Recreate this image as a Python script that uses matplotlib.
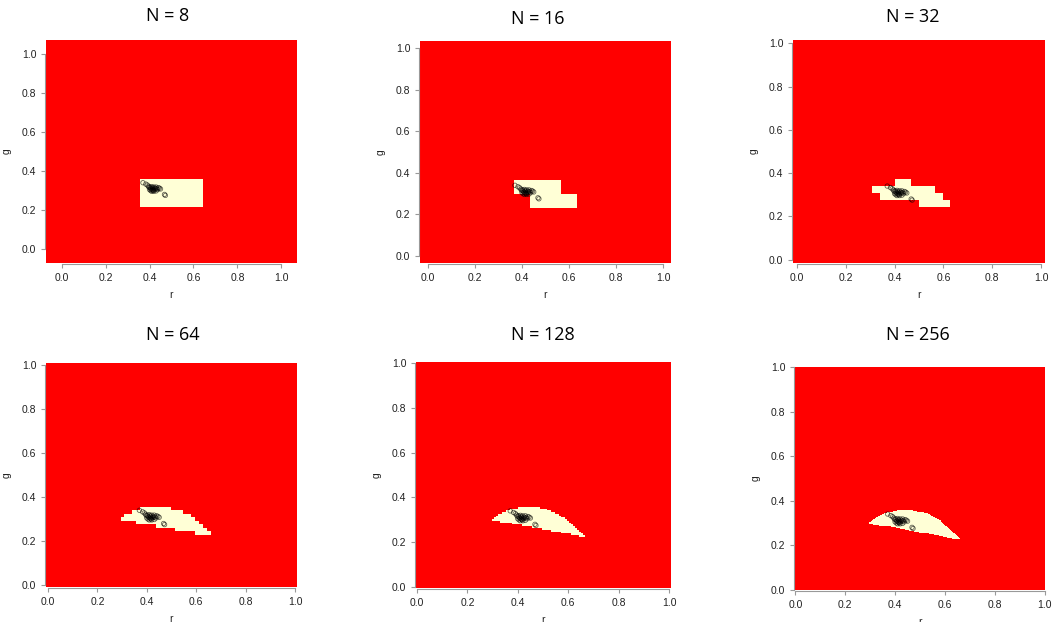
import numpy as np
import matplotlib
matplotlib.use('Agg')
import matplotlib.pyplot as plt
from matplotlib.colors import ListedColormap
from matplotlib.path import Path

plt.rcParams['font.family'] = ['Liberation Sans', 'DejaVu Sans']

# ─── Data ─────────────────────────────────────────────────────────────
grid_sizes = [8, 16, 32, 64, 128, 256]
titles = ['N = 8', 'N = 16', 'N = 32', 'N = 64', 'N = 128', 'N = 256']

upper_r = [0.296, 0.3226, 0.345, 0.37, 0.40, 0.435, 0.47, 0.50, 0.53, 0.565, 0.60, 0.63, 0.65, 0.665]
upper_g = [0.300, 0.326, 0.337, 0.347, 0.356, 0.360, 0.358, 0.350, 0.341, 0.323, 0.293, 0.264, 0.243, 0.224]
lower_r = [0.665, 0.58, 0.49, 0.40, 0.296]
lower_g = [0.224, 0.242, 0.260, 0.279, 0.297]

# observed samples
pts_r = [0.370, 0.383, 0.390, 0.395, 0.398, 0.402, 0.405, 0.408, 0.410, 0.412,
         0.414, 0.416, 0.418, 0.420, 0.422, 0.425, 0.428, 0.430, 0.433, 0.437,
         0.440, 0.445, 0.450, 0.405, 0.410, 0.415, 0.420, 0.400, 0.430, 0.468, 0.472]
pts_g = [0.340, 0.333, 0.328, 0.322, 0.316, 0.318, 0.312, 0.308, 0.320, 0.305,
         0.315, 0.310, 0.300, 0.318, 0.306, 0.312, 0.308, 0.318, 0.310, 0.305,
         0.315, 0.312, 0.308, 0.300, 0.296, 0.302, 0.296, 0.305, 0.298, 0.280, 0.275]

# ─── Layout (pixel boxes of the pasted panels) ────────────────────────
W, H = 1052, 622
boxes = [(46, 40, 297, 263), (420, 41, 671, 263), (793, 40, 1045, 263),
         (46, 363, 297, 587), (416, 362, 670, 588), (795, 367, 1045, 590)]
title_pos = [(168, 16), (538, 19), (913, 17), (173, 335), (543, 335), (918, 335)]

red, cream = '#FF0000', '#FFFFD6'
cmap = ListedColormap([red, cream])
region = Path(list(zip(upper_r + lower_r, upper_g + lower_g)))

fig = plt.figure(figsize=(W / 100, H / 100), dpi=100)

for N, title, (x0, y0, x1, y1), (tx, ty) in zip(grid_sizes, titles, boxes, title_pos):
    ax = fig.add_axes([x0 / W, 1 - y1 / H, (x1 - x0) / W, (y1 - y0) / H])
    c = np.linspace(0, 1, N)
    rr, gg = np.meshgrid(c, c)
    inside = region.contains_points(np.column_stack([rr.ravel(), gg.ravel()]))
    mask = inside.reshape(N, N).astype(float)
    h = 0.5 / (N - 1)
    ax.imshow(mask, extent=(-h, 1 + h, -h, 1 + h), origin='lower', cmap=cmap,
              vmin=0, vmax=1, interpolation='nearest', aspect='auto')
    ax.scatter(pts_r, pts_g, s=10, facecolors='none', edgecolors='black',
               linewidths=0.6, alpha=0.6, zorder=3)
    ax.set_xlim(-h, 1 + h)
    ax.set_ylim(-h, 1 + h)

    ticks = np.arange(0, 1.01, 0.2)
    ax.set_xticks(ticks)
    ax.set_yticks(ticks)
    ax.set_xticklabels([f'{t:.1f}' for t in ticks])
    ax.set_yticklabels([f'{t:.1f}' for t in ticks], rotation=90, va='center')
    for side in ['top', 'right']:
        ax.spines[side].set_visible(False)
    for side in ['left', 'bottom']:
        ax.spines[side].set_bounds(0, 1)
        ax.spines[side].set_color('#999999')
        ax.spines[side].set_linewidth(0.8)
        ax.spines[side].set_position(('outward', 1))
    ax.tick_params(direction='out', length=3, width=0.8, color='#999999',
                   labelsize=7.5, labelcolor='#222222', pad=3)
    ax.set_xlabel('r', fontsize=7.5, color='#222222', labelpad=5)
    ax.set_ylabel('g', fontsize=7.5, color='#222222', labelpad=7)

    fig.text(tx / W, 1 - ty / H, title, ha='center', va='center',
             fontsize=13, family='Open Sans')

fig.savefig('out.png', dpi=100)
